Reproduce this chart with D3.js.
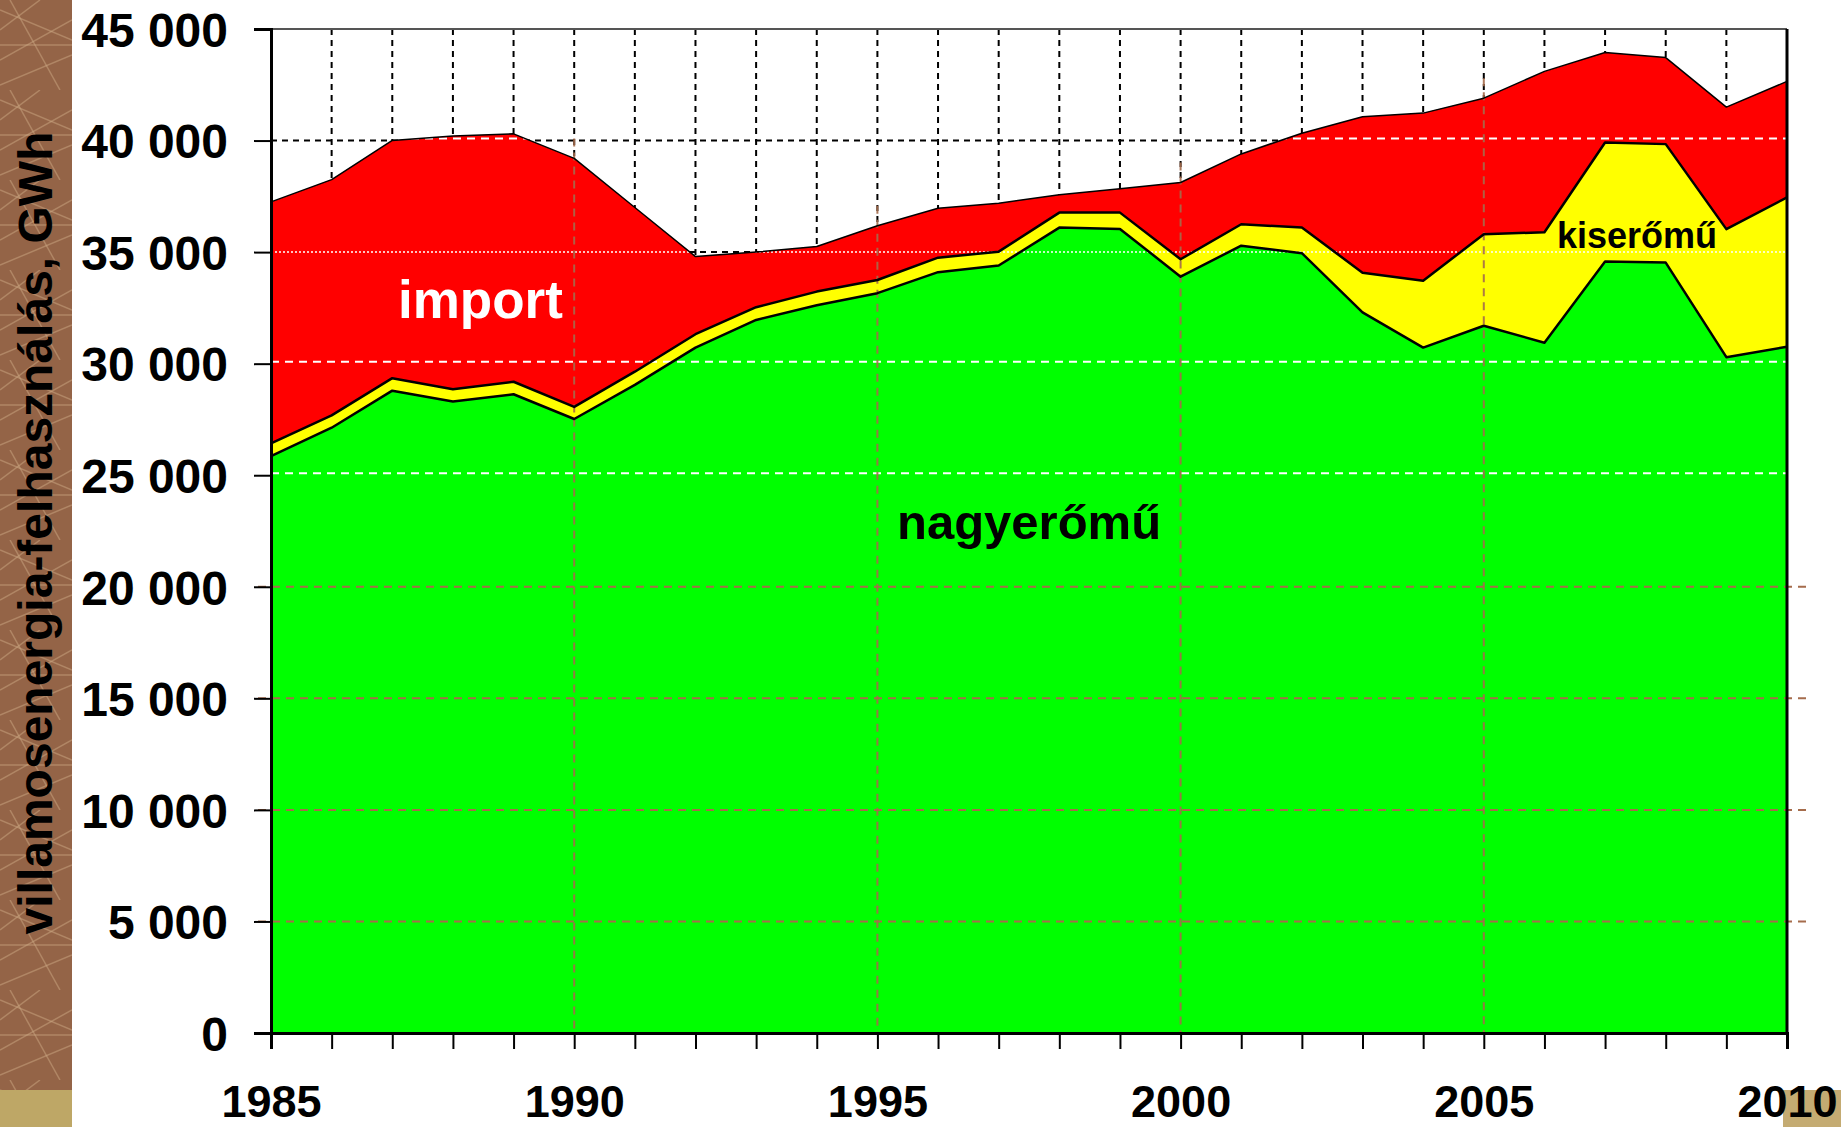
<!DOCTYPE html>
<html>
<head>
<meta charset="utf-8">
<script src="https://cdn.jsdelivr.net/npm/d3@7"></script>
<style>
  html, body { margin: 0; padding: 0; background: #fff; }
  svg { display: block; }
  text { font-family: "Liberation Sans", Arial, sans-serif; font-weight: bold; }
</style>
</head>
<body>
<svg id="chart" width="1841" height="1127"></svg>
<script>
// Villamosenergia-felhasználás forrásonként, 1985-2010 (GWh)
const years = d3.range(1985, 2011);

const nagyeromu = [25860, 27130, 28790, 28300, 28630, 27520, 29050, 30720, 31960, 32620,
                   33160, 34100, 34400, 36100, 36040, 33900, 35290, 34950, 32300, 30720,
                   31700, 30940, 34580, 34530, 30290, 30760];
const kiseromu  = [570, 550, 560, 550, 560, 540, 590, 600, 570, 610,
                   590, 650, 620, 670, 730, 780, 960, 1150, 1780, 3000,
                   4100, 4950, 5330, 5310, 5740, 6690];
const importv   = [10820, 10570, 10655, 11350, 11110, 11140, 7360, 3480, 2470, 2020,
                   2430, 2220, 2170, 800, 1070, 3440, 3150, 4230, 6990, 7510,
                   6100, 7210, 4040, 3880, 5470, 5200];

const yTicks = d3.range(0, 45001, 5000);
const xLabelYears = [1985, 1990, 1995, 2000, 2005, 2010];
const seriesKeys = ['nagyeromu', 'kiseromu', 'import'];
const seriesColors = { nagyeromu: '#00ff00', kiseromu: '#ffff00', import: '#ff0000' };

const rows = years.map((yr, i) => ({
    year: yr,
    nagyeromu: nagyeromu[i],
    kiseromu: kiseromu[i],
    import: importv[i]
}));

const svg = d3.select('#chart');
const plotLeft = 271, plotRight = 1787, plotTop = 29, plotBottom = 1033;

const x = d3.scaleLinear().domain([1985, 2010]).range([plotLeft, plotRight]);
const y = d3.scaleLinear().domain([0, 45000]).range([plotBottom, plotTop]);

// left decorative strip
const defs = svg.append('defs');
const pat = defs.append('pattern')
    .attr('id', 'weave')
    .attr('patternUnits', 'userSpaceOnUse')
    .attr('width', 72).attr('height', 90);
pat.append('rect').attr('width', 72).attr('height', 90).attr('fill', '#8e5c40');
[[0, 10, 72, 40], [0, 60, 72, 20], [0, 85, 72, 55], [10, 0, 60, 90], [0, 30, 40, 0], [0, 45, 72, 45]]
    .forEach(l => {
        pat.append('line')
            .attr('x1', l[0]).attr('y1', l[1]).attr('x2', l[2]).attr('y2', l[3])
            .attr('stroke', '#d8b790').attr('stroke-width', 1.5).attr('opacity', 0.5);
    });
svg.append('rect').attr('x', 0).attr('y', 0).attr('width', 72).attr('height', 1090)
    .attr('fill', 'url(#weave)');
svg.append('rect').attr('x', 0).attr('y', 0).attr('width', 72).attr('height', 1090)
    .attr('fill', '#a87a5a').attr('opacity', 0.25);
svg.append('rect').attr('x', 0).attr('y', 1090).attr('width', 72).attr('height', 37)
    .attr('fill', '#bea766');
svg.append('rect').attr('x', 1783).attr('y', 1090).attr('width', 58).attr('height', 37)
    .attr('fill', '#c4ab72');

// background grid (black dashed, visible above the areas)
const grid = svg.append('g');
years.forEach(yr => {
    grid.append('line')
        .attr('x1', x(yr)).attr('x2', x(yr))
        .attr('y1', y(45000)).attr('y2', y(0))
        .attr('stroke', '#000').attr('stroke-width', 2)
        .attr('stroke-dasharray', '6,5');
});
[40000, 35000].forEach(v => {
    grid.append('line')
        .attr('x1', plotLeft).attr('x2', plotRight)
        .attr('y1', y(v)).attr('y2', y(v))
        .attr('stroke', '#000').attr('stroke-width', 2)
        .attr('stroke-dasharray', '6,5');
});
grid.append('line')
    .attr('x1', plotLeft).attr('x2', plotRight)
    .attr('y1', y(45000)).attr('y2', y(45000))
    .attr('stroke', '#555').attr('stroke-width', 2);

// stacked areas
const stack = d3.stack().keys(seriesKeys);
const layers = stack(rows);

const area = d3.area()
    .x(d => x(d.data.year))
    .y0(d => y(d[0]))
    .y1(d => y(d[1]));
const topLine = d3.line()
    .x(d => x(d.data.year))
    .y(d => y(d[1]));

svg.append('g').selectAll('path')
    .data(layers)
    .join('path')
    .attr('d', area)
    .attr('fill', d => seriesColors[d.key]);

// clip for overlay gridlines inside the areas
const total = layers[layers.length - 1];
defs.append('clipPath').attr('id', 'areaClip')
    .append('path')
    .attr('d', d3.area().x(d => x(d.data.year)).y0(y(0)).y1(d => y(d[1]))(total));

const over = svg.append('g').attr('clip-path', 'url(#areaClip)');
[40000, 30000, 25000].forEach(v => {
    over.append('line')
        .attr('x1', plotLeft).attr('x2', plotRight)
        .attr('y1', y(v) - 2).attr('y2', y(v) - 2)
        .attr('stroke', '#fff').attr('stroke-width', 2)
        .attr('stroke-dasharray', '8,6');
});
over.append('line')
    .attr('x1', plotLeft).attr('x2', plotRight)
    .attr('y1', y(35000)).attr('y2', y(35000))
    .attr('stroke', '#fff').attr('stroke-width', 1.5)
    .attr('stroke-dasharray', '2,2');

// brown dashed overlay lines
const brown = '#a56c4c';
[20000, 15000, 10000, 5000].forEach(v => {
    svg.append('line')
        .attr('x1', 258).attr('x2', 1806)
        .attr('y1', y(v)).attr('y2', y(v))
        .attr('stroke', brown).attr('stroke-width', 2)
        .attr('stroke-dasharray', '8,6');
});
[1990, 1995, 2000, 2005].forEach(yr => {
    const i = years.indexOf(yr);
    svg.append('line')
        .attr('x1', x(yr)).attr('x2', x(yr))
        .attr('y1', y(total[i][1]) - 20).attr('y2', y(0))
        .attr('stroke', brown).attr('stroke-width', 2)
        .attr('stroke-dasharray', '8,6')
        .attr('opacity', 0.9);
});

// layer outlines
svg.append('g').selectAll('path')
    .data(layers)
    .join('path')
    .attr('d', topLine)
    .attr('fill', 'none')
    .attr('stroke', '#000')
    .attr('stroke-width', d => d.key === 'import' ? 1.5 : 2.5)
    .attr('stroke-linejoin', 'round');

// axes
const yAxis = d3.axisLeft(y)
    .tickValues(yTicks)
    .tickSize(17)
    .tickPadding(26)
    .tickFormat(d => d3.format(',')(d).replace(/,/g, ' '));
const gy = svg.append('g').attr('transform', `translate(${plotLeft},0)`).call(yAxis);
gy.select('.domain').attr('stroke', '#000').attr('stroke-width', 3);
gy.selectAll('.tick line').attr('stroke', '#000').attr('stroke-width', 2);
gy.selectAll('.tick text')
    .attr('font-size', 48)
    .attr('font-family', '"Liberation Sans", Arial, sans-serif')
    .attr('font-weight', 'bold')
    .attr('fill', '#000')
    .attr('dy', '0.36em');

const xAxis = d3.axisBottom(x)
    .tickValues(years)
    .tickSize(16)
    .tickFormat(d => xLabelYears.includes(d) ? d : '');
const gx = svg.append('g').attr('transform', `translate(0,${plotBottom})`).call(xAxis);
gx.select('.domain').attr('stroke', '#000').attr('stroke-width', 3);
gx.selectAll('.tick line').attr('stroke', '#000').attr('stroke-width', 2);
gx.selectAll('.tick text')
    .attr('font-size', 45)
    .attr('font-family', '"Liberation Sans", Arial, sans-serif')
    .attr('font-weight', 'bold')
    .attr('fill', '#000')
    .attr('y', 52)
    .attr('dy', '0.71em');

// right border
svg.append('line')
    .attr('x1', plotRight).attr('x2', plotRight)
    .attr('y1', y(45000)).attr('y2', y(0))
    .attr('stroke', '#000').attr('stroke-width', 3);

// y axis title
svg.append('text')
    .attr('transform', 'translate(52,533) rotate(-90)')
    .attr('text-anchor', 'middle')
    .attr('font-size', 48)
    .attr('fill', '#000')
    .text('villamosenergia-felhasználás, GWh');

// series labels
svg.append('text').attr('x', 398).attr('y', 318)
    .attr('font-size', 53).attr('fill', '#fff').text('import');
svg.append('text').attr('x', 897).attr('y', 539)
    .attr('font-size', 49).attr('fill', '#000').text('nagyerőmű');
svg.append('text').attr('x', 1557).attr('y', 248)
    .attr('font-size', 36).attr('fill', '#000').text('kiserőmű');
</script>
</body>
</html>
